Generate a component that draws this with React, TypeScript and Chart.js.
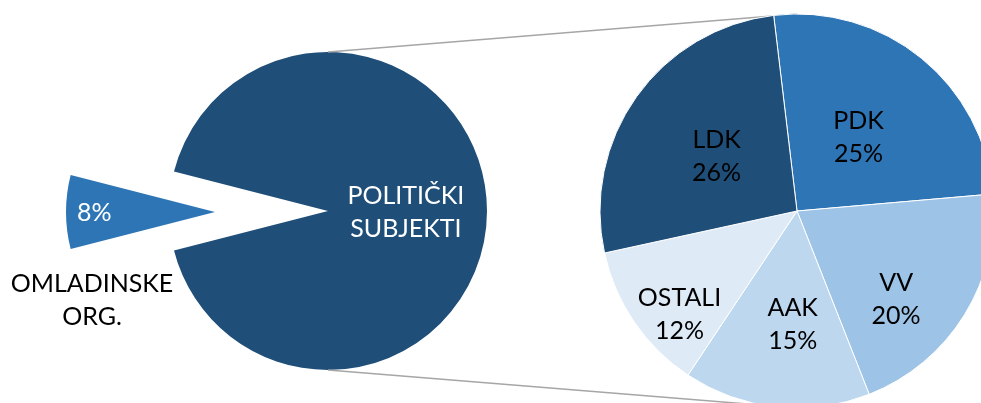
import React, { useEffect, useRef } from 'react';
import { Chart, registerables } from 'chart.js';

Chart.register(...registerables);

// ---- data ----
const mainCategories = ['POLITIČKI SUBJEKTI', 'OMLADINSKE ORG.'];
const mainValues = [92, 8];
const partyCategories = ['PDK', 'VV', 'AAK', 'OSTALI', 'LDK'];
const partyValues = [25, 20, 15, 12, 26];

// ---- style ----
const W = 981;
const H = 403;
const FONT = 'Lato, "Open Sans", sans-serif';
const FONT_SIZE = 25;
const LINE_H = 33;
const mainColors = ['#1F4E79', '#2E75B6'];
const partyColors = ['#2E75B6', '#9DC3E6', '#BDD7EE', '#DEEBF7', '#1F4E79'];
const CONNECTOR = '#A6A6A6';

// pie geometry (centre, radius) in canvas pixels
const mainPie = { cx: 328, cy: 211, r: 159 };
const slicePie = { cx: 215, cy: 212, r: 149 };
const partyPie = { cx: 797, cy: 211, r: 197 };
const partyRotation = -6.8;

// label placement inside each slice: t = fraction along slice angle, f = fraction of radius
const partyLabelPos = [
  { t: 0.506, f: 0.49 },
  { t: 0.63, f: 0.67 },
  { t: 0.43, f: 0.57 },
  { t: 0.35, f: 0.79 },
  { t: 0.49, f: 0.495 },
];
const mainLabelPos = { t: 0.5, f: 0.49 };
const smallPctPos = { t: 0.5, f: 0.81 };
const smallNamePos = { t: -0.735, f: 1.015 };

type LabelSpec = { lines: string[]; color: string; t: number; f: number };

function labelPlugin(id: string, specs: (LabelSpec[] | null)[]) {
  return {
    id,
    afterDatasetsDraw(chart: any) {
      const ctx = chart.ctx;
      const arcs = chart.getDatasetMeta(0).data;
      ctx.save();
      ctx.font = `${FONT_SIZE}px ${FONT}`;
      ctx.textAlign = 'center';
      ctx.textBaseline = 'alphabetic';
      specs.forEach((list, i) => {
        if (!list) return;
        const arc = arcs[i];
        const { x, y, startAngle, endAngle, outerRadius } = arc.getProps(
          ['x', 'y', 'startAngle', 'endAngle', 'outerRadius'],
          true
        );
        list.forEach((s) => {
          const a = startAngle + s.t * (endAngle - startAngle);
          const px = x + Math.cos(a) * outerRadius * s.f;
          const py = y + Math.sin(a) * outerRadius * s.f;
          ctx.fillStyle = s.color;
          const n = s.lines.length;
          s.lines.forEach((line, k) => {
            const ly = py + (k - (n - 1) / 2) * LINE_H + FONT_SIZE * 0.36;
            ctx.fillText(line, px, ly);
          });
        });
      });
      ctx.restore();
    },
  };
}

function paddingFor(p: { cx: number; cy: number }) {
  const pad = { left: 0, right: 0, top: 0, bottom: 0 };
  if (p.cx * 2 < W) pad.right = W - 2 * p.cx;
  else pad.left = 2 * p.cx - W;
  if (p.cy * 2 < H) pad.bottom = H - 2 * p.cy;
  else pad.top = 2 * p.cy - H;
  return pad;
}

function pieConfig(
  labels: string[],
  values: number[],
  colors: string[],
  rotation: number,
  geom: { cx: number; cy: number; r: number },
  borderWidth: number,
  plugins: any[]
): any {
  return {
    type: 'pie',
    data: {
      labels,
      datasets: [
        {
          data: values,
          backgroundColor: colors,
          borderColor: '#FFFFFF',
          borderWidth,
          radius: geom.r,
          rotation,
          clip: false,
          hoverOffset: 0,
        },
      ],
    },
    options: {
      responsive: false,
      maintainAspectRatio: false,
      animation: false,
      events: [],
      rotation,
      radius: geom.r,
      layout: { padding: paddingFor(geom) },
      plugins: { legend: { display: false }, tooltip: { enabled: false } },
    },
    plugins,
  };
}

export default function App() {
  const mainRef = useRef<HTMLCanvasElement>(null);
  const smallRef = useRef<HTMLCanvasElement>(null);
  const partyRef = useRef<HTMLCanvasElement>(null);

  useEffect(() => {
    const total = mainValues.reduce((a, b) => a + b, 0);
    // centre the small slice on the left side (270° clockwise from top)
    const mainRotation = 270 - (360 * (mainValues[0] + mainValues[1] / 2)) / total;

    const mainChart = new Chart(
      mainRef.current as HTMLCanvasElement,
      pieConfig(
        mainCategories,
        mainValues,
        [mainColors[0], 'rgba(0,0,0,0)'],
        mainRotation,
        mainPie,
        0,
        [
          labelPlugin('mainLabels', [
            [{ lines: mainCategories[0].split(' '), color: '#FFFFFF', ...mainLabelPos }],
            null,
          ]),
        ]
      )
    );

    const smallChart = new Chart(
      smallRef.current as HTMLCanvasElement,
      pieConfig(
        mainCategories,
        mainValues,
        ['rgba(0,0,0,0)', mainColors[1]],
        mainRotation,
        slicePie,
        0,
        [
          labelPlugin('smallLabels', [
            null,
            [
              { lines: [`${mainValues[1]}%`], color: '#FFFFFF', ...smallPctPos },
              { lines: mainCategories[1].split(' '), color: '#000000', ...smallNamePos },
            ],
          ]),
        ]
      )
    );

    const connectorPlugin = {
      id: 'connectors',
      beforeDatasetsDraw(chart: any) {
        const l = mainChart.getDatasetMeta(0).data[0] as any;
        const r = chart.getDatasetMeta(0).data[0] as any;
        const lp = l.getProps(['x', 'y', 'outerRadius'], true);
        const rp = r.getProps(['x', 'y', 'outerRadius'], true);
        const ctx = chart.ctx;
        ctx.save();
        ctx.strokeStyle = CONNECTOR;
        ctx.lineWidth = 1.5;
        ctx.beginPath();
        ctx.moveTo(lp.x, lp.y - lp.outerRadius);
        ctx.lineTo(rp.x, rp.y - rp.outerRadius);
        ctx.moveTo(lp.x, lp.y + lp.outerRadius);
        ctx.lineTo(rp.x, rp.y + rp.outerRadius);
        ctx.stroke();
        ctx.restore();
      },
    };

    const partyChart = new Chart(
      partyRef.current as HTMLCanvasElement,
      pieConfig(
        partyCategories,
        partyValues,
        partyColors,
        partyRotation,
        partyPie,
        1,
        [
          connectorPlugin,
          labelPlugin(
            'partyLabels',
            partyCategories.map((c, i) => [
              { lines: [c, `${partyValues[i]}%`], color: '#000000', ...partyLabelPos[i] },
            ])
          ),
        ]
      )
    );

    return () => {
      partyChart.destroy();
      smallChart.destroy();
      mainChart.destroy();
    };
  }, []);

  const canvasStyle: React.CSSProperties = { position: 'absolute', left: 0, top: 0 };

  return (
    <div
      style={{
        position: 'fixed',
        left: 0,
        top: 0,
        width: W,
        height: H,
        overflow: 'hidden',
        background: '#FFFFFF',
      }}
    >
      <canvas ref={mainRef} width={W} height={H} style={canvasStyle} />
      <canvas ref={smallRef} width={W} height={H} style={canvasStyle} />
      <canvas ref={partyRef} width={W} height={H} style={canvasStyle} />
    </div>
  );
}
